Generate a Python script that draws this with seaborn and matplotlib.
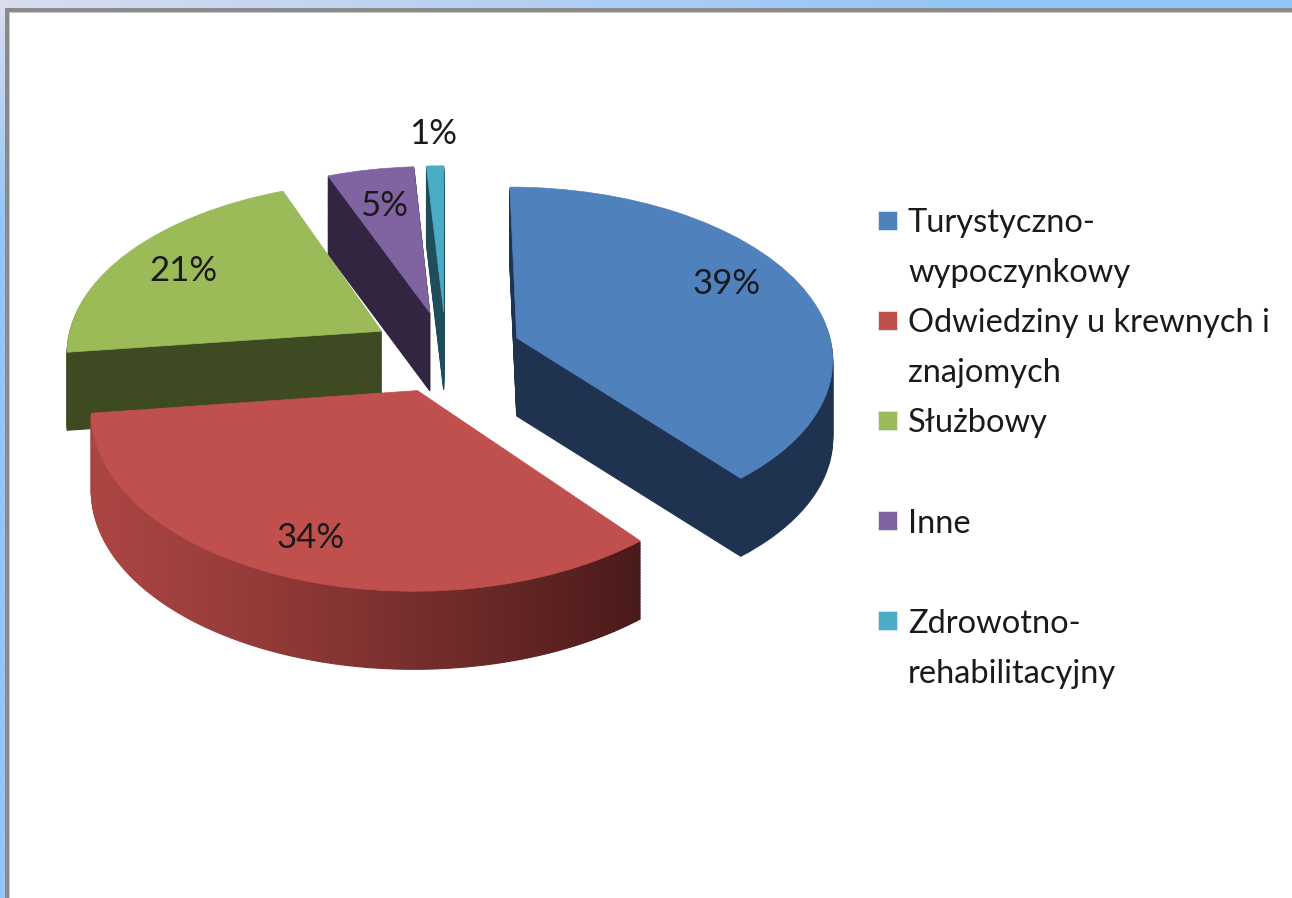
import numpy as np
import matplotlib
matplotlib.use("Agg")
import matplotlib.pyplot as plt
import matplotlib.transforms as mtransforms
from matplotlib.patches import Rectangle
from matplotlib.colors import to_rgb
import seaborn as sns

# data
categories = ["Turystyczno-wypoczynkowy", "Odwiedziny u krewnych i znajomych",
              "Służbowy", "Inne", "Zdrowotno-rehabilitacyjny"]
legend_lines = [["Turystyczno-", "wypoczynkowy"],
                ["Odwiedziny u krewnych i", "znajomych"],
                ["Służbowy"],
                ["Inne"],
                ["Zdrowotno-", "rehabilitacyjny"]]
shares = [39, 34, 21, 5, 1]
pct_labels = ["39%", "34%", "21%", "5%", "1%"]

# colours (Excel 2007 palette) and the darker side walls
top_colors = sns.color_palette(["#4f81bd", "#c0504d", "#9bbb59", "#8064a2", "#4bacc6"])
side_colors = ["#1f3350", None, "#3d4a22", "#32253f", "#1f4d5a"]
red_side_left, red_side_right = "#aa4542", "#4a1a1a"

# fake 3d view: pie plane -> pixel coords with a bit of perspective
CX, CY = 446.0, 351.7
AX_, BY_ = 316.0, 170.0
K = 0.108
EXPLODE = 0.24
DEPTH = 78


class Tilt(mtransforms.Transform):
    input_dims = 2
    output_dims = 2

    def __init__(self, drop=0.0):
        super().__init__()
        self.drop = drop

    def transform_non_affine(self, xy):
        xy = np.asarray(xy, float).reshape(-1, 2)
        w = 1 + K * xy[:, 1]
        return np.column_stack([CX + AX_ * xy[:, 0] / w,
                                CY - BY_ * xy[:, 1] / w + self.drop])


sns.set_style("white")
plt.rcParams["font.family"] = ["Lato", "DejaVu Sans"]

fig = plt.figure(figsize=(12.92, 8.98), dpi=100)
ax = fig.add_axes([0, 0, 1, 1])

# window frame around the chart
gx, gy = np.meshgrid(np.linspace(0, 1, 200), np.linspace(0, 1, 140))
t = np.clip(gx * 1.3 + gy * 4, 0, 1)[..., None]
c0, c1 = np.array(to_rgb("#d9ddef")), np.array(to_rgb("#93c5f6"))
ax.imshow(c0 + (c1 - c0) * t, extent=[0, 1292, 898, 0], zorder=0, interpolation="bilinear")
ax.add_patch(Rectangle((5, 8), 1300, 4, color="#8a8a8a", lw=0, zorder=0.2))
ax.add_patch(Rectangle((5, 8), 3.5, 900, color="#8a8a8a", lw=0, zorder=0.2))
ax.add_patch(Rectangle((8.5, 12), 1300, 900, color="#c8c8c8", lw=0, zorder=0.25))
ax.add_patch(Rectangle((9.5, 13), 1300, 900, color="white", lw=0, zorder=0.3))

# drawing order back to front: cyan, purple, green, blue, red
z_base = [4, 5, 3, 2, 1]

frac = np.array(shares, float) / sum(shares)
theta_end = 90 - 360 * np.cumsum(frac)
theta_mid = np.deg2rad(theta_end + 180 * frac)
offsets = EXPLODE * np.column_stack([np.cos(theta_mid), np.sin(theta_mid)])

# red side wall gets a left-to-right shading, so split it into thin parts
red_parts = 160
split_vals = [shares[0]] + [shares[1] / red_parts] * red_parts + list(shares[2:])
part_mid = np.deg2rad(90 - 360 * (frac[0] + (np.arange(red_parts) + 0.5) * frac[1] / red_parts))
rim = offsets[1] + np.column_stack([np.cos(part_mid), np.sin(part_mid)])
rim_x = Tilt(0).transform(rim)[:, 0]
tt = np.clip((rim_x - 90) / (640 - 90), 0, 1)[:, None] ** 1.2
rl, rr = np.array(to_rgb(red_side_left)), np.array(to_rgb(red_side_right))
red_grad = [tuple(c) for c in rl + (rr - rl) * tt]
split_colors = ["none"] + red_grad + ["none"] * 3

for drop in np.arange(DEPTH, 0, -1.5):
    tr = Tilt(drop) + ax.transData
    z_step = 0.5 - drop / 1000
    wedges, _ = ax.pie(shares, explode=[EXPLODE] * 5, startangle=90, counterclock=False,
                       colors=[c if c else "none" for c in side_colors],
                       wedgeprops=dict(linewidth=0.8))
    for i, w in enumerate(wedges):
        if side_colors[i] is None:
            w.remove()
            continue
        w.set_edgecolor(side_colors[i])
        w.set_transform(tr)
        w.set_zorder(z_base[i] + z_step)
    rw, _ = ax.pie(split_vals, center=tuple(offsets[1]), startangle=90, counterclock=False,
                   colors=split_colors, wedgeprops=dict(linewidth=0.8))
    for j, w in enumerate(rw):
        if 1 <= j <= red_parts:
            w.set_edgecolor(red_grad[j - 1])
            w.set_transform(tr)
            w.set_zorder(z_base[1] + z_step)
        else:
            w.remove()

# top faces
wedges, _ = ax.pie(shares, explode=[EXPLODE] * 5, startangle=90, counterclock=False,
                   colors=top_colors, wedgeprops=dict(linewidth=0.5))
for i, w in enumerate(wedges):
    w.set_edgecolor(top_colors[i])
    w.set_transform(Tilt(0) + ax.transData)
    w.set_zorder(z_base[i] + 0.6)

# percentage labels
label_r = [0.79, 0.80, 0.78, 0.75, 1.27]
label_turn = [7, 0, 0, 0, 0]
for i in range(len(shares)):
    a = theta_mid[i] + np.deg2rad(label_turn[i])
    p = offsets[i] + label_r[i] * np.array([np.cos(a), np.sin(a)])
    x, y = Tilt(0).transform(p)
    ax.text(x, y + 13, pct_labels[i], ha="center", va="baseline", fontsize=25,
            color="#1a1a1a", zorder=10)

# legend, Excel style (each entry takes two lines)
for i, lines in enumerate(legend_lines):
    yc = 220 + 100.2 * i
    ax.add_patch(Rectangle((878, yc - 9.5), 19, 19, facecolor=top_colors[i],
                           edgecolor="#e0e8f0", lw=0.6, zorder=10))
    for k, line in enumerate(lines):
        ax.text(908, yc + 12 + 50 * k, line, ha="left", va="baseline", fontsize=23.5,
                color="#1a1a1a", zorder=10)

ax.set_aspect("auto")
ax.set_xlim(0, 1292)
ax.set_ylim(898, 0)
ax.set_axis_off()

fig.savefig("out.png", dpi=100)
